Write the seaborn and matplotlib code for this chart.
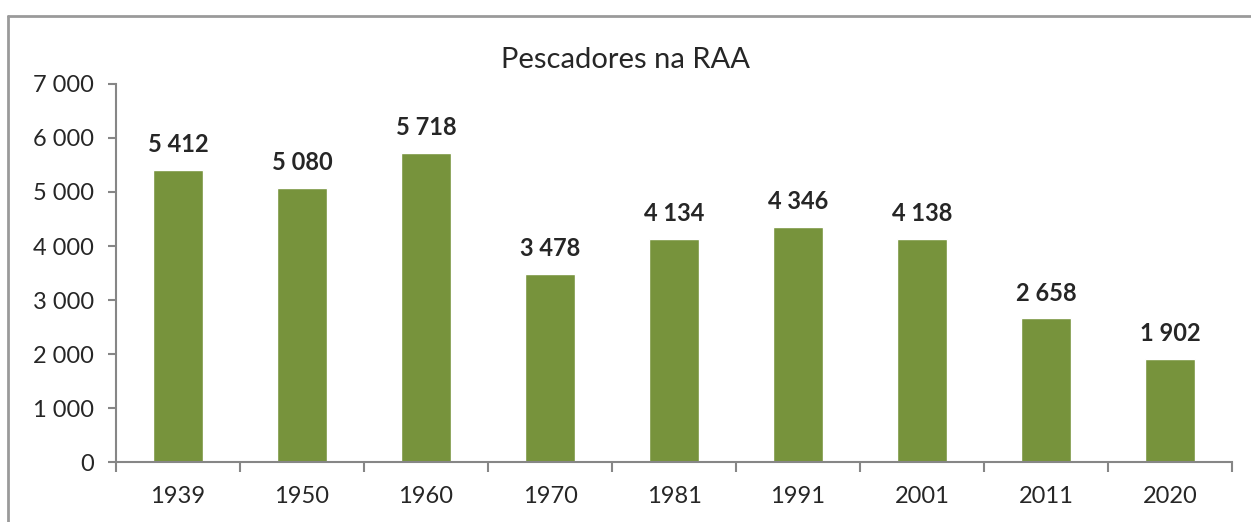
import matplotlib
matplotlib.use("Agg")
import matplotlib.pyplot as plt
import seaborn as sns
import pandas as pd
from matplotlib.lines import Line2D

# Pescadores na RAA
anos = ["1939", "1950", "1960", "1970", "1981", "1991", "2001", "2011", "2020"]
pescadores = [5412, 5080, 5718, 3478, 4134, 4346, 4138, 2658, 1902]

df = pd.DataFrame({"Ano": anos, "Pescadores": pescadores})

sns.set_style("white")
plt.rcParams["font.family"] = ["Lato", "DejaVu Sans"]

axis_gray = "#868686"
fig = plt.figure(figsize=(12.51, 5.22), dpi=100)
ax = fig.add_axes([0.0927, 0.1149, 0.8921, 0.7242])

sns.barplot(data=df, x="Ano", y="Pescadores", color="#77933C", width=0.4,
            saturation=1, ax=ax)

ax.set_ylim(0, 7000)
ax.set_xlim(-0.5, len(anos) - 0.5)
ax.set_yticks(range(0, 7001, 1000))
ax.set_yticklabels([f"{v:,}".replace(",", " ") for v in range(0, 7001, 1000)])
ax.set_xlabel("")
ax.set_ylabel("")

for s in ["top", "right"]:
    ax.spines[s].set_visible(False)
for s in ["left", "bottom"]:
    ax.spines[s].set_color(axis_gray)
    ax.spines[s].set_linewidth(1.5)

# x ticks sit between categories
ax.set_xticks([i - 0.5 for i in range(len(anos) + 1)], minor=True)
ax.tick_params(axis="x", which="major", bottom=False, labelsize=17, pad=14,
               labelcolor="#262626")
ax.tick_params(axis="x", which="minor", bottom=True, direction="out",
               length=7, width=1.5, color=axis_gray)
ax.tick_params(axis="y", which="major", left=True, direction="out", length=6,
               width=1.5, color=axis_gray, labelsize=17, pad=10,
               labelcolor="#262626")

for i, v in enumerate(pescadores):
    ax.annotate(f"{v:,}".replace(",", " "), (i, v), xytext=(0, 10),
                textcoords="offset points", ha="center", va="bottom",
                fontsize=17, fontweight="bold", color="#262626")

fig.text(0.5, 0.885, "Pescadores na RAA", ha="center", va="center",
         fontsize=21, color="#262626")

# chart area border (cut off at right and bottom)
fig.add_artist(Line2D([0.0064, 1.0], [0.969, 0.969], transform=fig.transFigure,
                      color="#9a9a9a", linewidth=2))
fig.add_artist(Line2D([0.0064, 0.0064], [0.0, 0.969], transform=fig.transFigure,
                      color="#9a9a9a", linewidth=2))

fig.savefig("out.png", dpi=100)
